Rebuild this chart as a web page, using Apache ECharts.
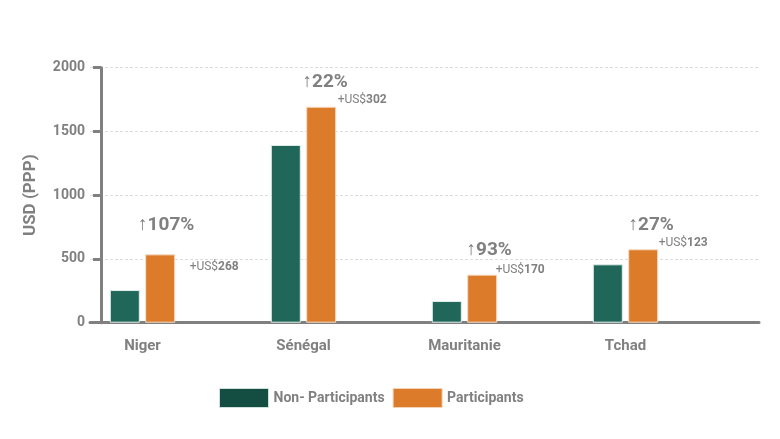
<!DOCTYPE html>
<html>
<head>
<meta charset="utf-8">
<script src="https://cdn.jsdelivr.net/npm/echarts@6/dist/echarts.min.js"></script>
<style>
  html, body { margin: 0; padding: 0; background: #fff; }
  #chart { width: 780px; height: 439px; }
</style>
</head>
<body>
<div id="chart"></div>
<script>
// données
var categories = ['Niger', 'Sénégal', 'Mauritanie', 'Tchad'];
var nonParticipants = [256, 1394, 170, 458];
var participants = [536, 1694, 377, 576];
var pctGain = ['107%', '22%', '93%', '27%'];
var usdGain = ['268', '302', '170', '123'];
var yTicks = { min: 0, max: 2000, interval: 500 };

// décalages des annotations (px, par rapport au haut de la barre orange)
var pctOffsets = [[6, -15], [4, -10], [7, -10], [8, -10]];
var usdOffsets = [[54, 13], [41, -7], [38, -5], [40, -6]];

var gray = '#808080';
var font = 'Roboto, "Noto Sans", sans-serif';

var chart = echarts.init(document.getElementById('chart'));

var option = {
  animation: false,
  textStyle: { fontFamily: font },
  grid: [
    // axes
    { left: 90, right: 21, top: 67.7, height: 255 },
    // barres
    { left: 62, width: 644, top: 67.7, height: 255 }
  ],
  legend: {
    left: 219,
    top: 388,
    padding: 0,
    itemWidth: 49,
    itemHeight: 19,
    itemGap: 8,
    icon: 'rect',
    textStyle: { color: gray, fontSize: 14, fontWeight: 'bold', fontFamily: font },
    data: [
      { name: 'Non- Participants', itemStyle: { color: '#144e42', borderColor: '#cfe0dc', borderWidth: 1 } },
      { name: 'Participants', itemStyle: { color: '#dc7b2a', borderColor: '#f3d3b5', borderWidth: 1 } }
    ]
  },
  xAxis: [
    {
      type: 'category',
      gridIndex: 0,
      data: categories,
      axisLine: { lineStyle: { color: gray, width: 3 } },
      axisTick: { show: false },
      axisLabel: { show: false }
    },
    {
      type: 'category',
      gridIndex: 1,
      data: categories,
      axisLine: { show: false },
      axisTick: { show: false },
      axisLabel: { color: gray, fontSize: 15, fontWeight: 'bold', margin: 16 }
    }
  ],
  yAxis: [
    {
      type: 'value',
      gridIndex: 0,
      min: yTicks.min,
      max: yTicks.max,
      interval: yTicks.interval,
      offset: -11,
      name: 'USD (PPP)',
      nameLocation: 'middle',
      nameGap: 62,
      nameTextStyle: { color: gray, fontSize: 17, fontWeight: 'bold' },
      axisLine: { show: true, lineStyle: { color: gray, width: 3 } },
      axisTick: { show: true, length: 8, lineStyle: { color: gray, width: 3 } },
      axisLabel: {
        color: gray, fontSize: 14, fontWeight: 'bold', margin: 16,
        formatter: function (v) { return String(v); }
      },
      splitLine: { show: true, lineStyle: { color: '#dcdcdc', width: 1, type: [3, 2] } }
    },
    {
      type: 'value',
      gridIndex: 1,
      min: yTicks.min,
      max: yTicks.max,
      interval: yTicks.interval,
      show: false,
      splitLine: { show: false }
    }
  ],
  series: [
    {
      name: 'Non- Participants',
      type: 'bar',
      xAxisIndex: 1,
      yAxisIndex: 1,
      barWidth: 30,
      barGap: '18%',
      itemStyle: { color: '#20675a', borderColor: '#e3eeeb', borderWidth: 1 },
      data: nonParticipants
    },
    {
      name: 'Participants',
      type: 'bar',
      xAxisIndex: 1,
      yAxisIndex: 1,
      barWidth: 30,
      itemStyle: { color: '#dc7b2a', borderColor: '#f6dcc4', borderWidth: 1 },
      data: participants.map(function (v, i) {
        return {
          value: v,
          label: {
            show: true,
            position: 'top',
            offset: pctOffsets[i],
            formatter: '↑' + pctGain[i],
            color: gray,
            fontSize: 19,
            fontWeight: 'bold',
            fontFamily: font
          }
        };
      }),
      markPoint: {
        symbol: 'circle',
        symbolSize: 0,
        silent: true,
        label: {
          show: true,
          position: 'inside',
          rich: {
            n: { color: gray, fontSize: 12, fontFamily: font },
            b: { color: gray, fontSize: 12, fontWeight: 'bold', fontFamily: font }
          }
        },
        data: categories.map(function (c, i) {
          return {
            coord: [c, participants[i]],
            label: {
              offset: usdOffsets[i],
              formatter: '{n|+US$}{b|' + usdGain[i] + '}'
            }
          };
        })
      }
    }
  ]
};

chart.setOption(option);
</script>
</body>
</html>
